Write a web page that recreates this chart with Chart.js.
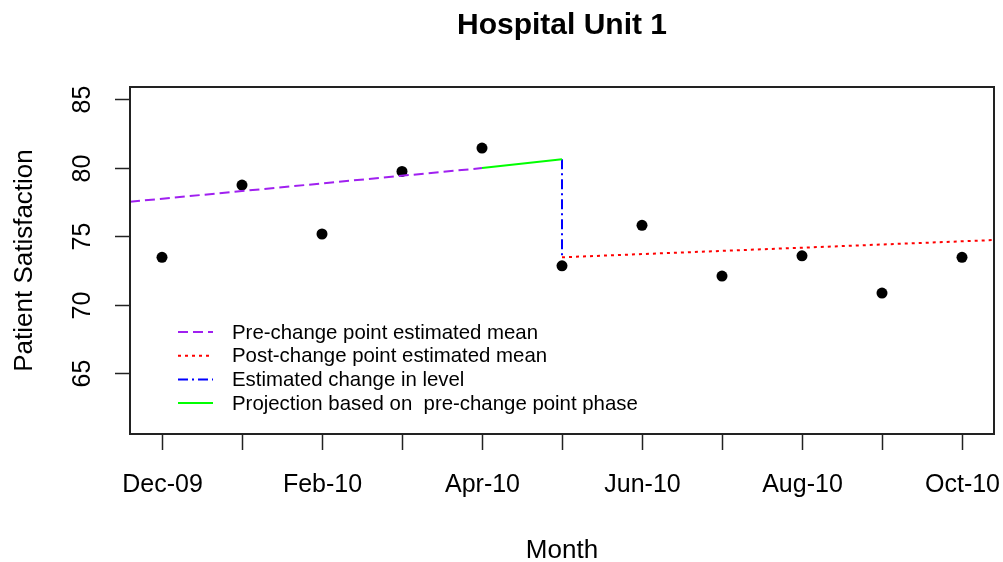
<!DOCTYPE html>
<html>
<head>
<meta charset="utf-8">
<script src="https://cdn.jsdelivr.net/npm/chart.js@4.4.1/dist/chart.umd.min.js"></script>
<style>
  html, body { margin: 0; padding: 0; background: #ffffff; }
  #wrap { width: 1003px; height: 562px; }
</style>
</head>
<body>
<div id="wrap"><canvas id="c" width="1003" height="562"></canvas></div>
<script>
// ---- Data ----
const months = ['Dec-09','Jan-10','Feb-10','Mar-10','Apr-10','May-10','Jun-10','Jul-10','Aug-10','Sep-10','Oct-10'];
const satisfaction = [73.45, 78.72, 75.15, 79.72, 81.42, 72.83, 75.78, 72.08, 73.56, 70.84, 73.45];
const yTicks = [65, 70, 75, 80, 85];

// fitted segments (month index, value)
const preMeanX = [-0.4, 4];
const preMeanY = [77.50, 79.96];
const projX = [4, 5];
const projY = [79.96, 80.60];
const changeX = [5, 5];
const changeY = [80.60, 73.45];
const postMeanX = [5, 10.4];
const postMeanY = [73.45, 74.71];

const legendLabels = [
  'Pre-change point estimated mean',
  'Post-change point estimated mean',
  'Estimated change in level',
  'Projection based on  pre-change point phase'
];

const toXY = (xs, ys) => xs.map((x, i) => ({ x: x, y: ys[i] }));

const FONT = '"Liberation Sans", Arial, sans-serif';

const styles = [
  { color: '#A020F0', dash: [10, 5] },
  { color: '#FF0000', dash: [3, 4] },
  { color: '#0000FF', dash: [10, 4, 2, 4] },
  { color: '#00FF00', dash: [] }
];

const rDecor = {
  id: 'rDecor',
  afterDraw(chart) {
    const ctx = chart.ctx;
    const a = chart.chartArea;
    const xs = chart.scales.x, ys = chart.scales.y;
    ctx.save();
    // box
    ctx.strokeStyle = '#222';
    ctx.lineWidth = 2;
    ctx.setLineDash([]);
    ctx.strokeRect(a.left, a.top, a.right - a.left, a.bottom - a.top);
    // x ticks
    ctx.lineWidth = 1.5;
    ctx.fillStyle = '#000';
    ctx.font = '25px ' + FONT;
    ctx.textAlign = 'center';
    ctx.textBaseline = 'alphabetic';
    months.forEach((m, i) => {
      const px = Math.round(xs.getPixelForValue(i)) + 0.5;
      ctx.beginPath();
      ctx.moveTo(px, a.bottom);
      ctx.lineTo(px, a.bottom + 16);
      ctx.stroke();
      if (i % 2 === 0) ctx.fillText(m, px, 492);
    });
    // y ticks
    yTicks.forEach(v => {
      const py = Math.round(ys.getPixelForValue(v)) + 0.5;
      ctx.beginPath();
      ctx.moveTo(a.left - 15, py);
      ctx.lineTo(a.left, py);
      ctx.stroke();
      ctx.save();
      ctx.translate(90, py);
      ctx.rotate(-Math.PI / 2);
      ctx.fillText(String(v), 0, 0);
      ctx.restore();
    });
    // axis titles
    ctx.font = '26px ' + FONT;
    ctx.fillText('Month', (a.left + a.right) / 2, 558);
    ctx.save();
    ctx.translate(32, (a.top + a.bottom) / 2);
    ctx.rotate(-Math.PI / 2);
    ctx.fillText('Patient Satisfaction', 0, 0);
    ctx.restore();
    // title
    ctx.font = 'bold 30px ' + FONT;
    ctx.fillText('Hospital Unit 1', (a.left + a.right) / 2, 34);
    // legend
    ctx.font = '20.4px ' + FONT;
    ctx.textAlign = 'left';
    ctx.textBaseline = 'middle';
    legendLabels.forEach((lab, i) => {
      const y = 332 + i * 23.7;
      ctx.strokeStyle = styles[i].color;
      ctx.lineWidth = 2;
      ctx.setLineDash(styles[i].dash);
      ctx.beginPath();
      ctx.moveTo(178, y);
      ctx.lineTo(213, y);
      ctx.stroke();
      ctx.fillStyle = '#000';
      ctx.fillText(lab, 232, y + 1);
    });
    ctx.restore();
  }
};

new Chart(document.getElementById('c'), {
  type: 'scatter',
  data: {
    datasets: [
      { label: 'pre', data: toXY(preMeanX, preMeanY), showLine: true, borderColor: styles[0].color, borderDash: styles[0].dash, borderWidth: 2, pointRadius: 0 },
      { label: 'proj', data: toXY(projX, projY), showLine: true, borderColor: styles[3].color, borderWidth: 2, pointRadius: 0 },
      { label: 'change', data: toXY(changeX, changeY), showLine: true, borderColor: styles[2].color, borderDash: styles[2].dash, borderWidth: 2, pointRadius: 0 },
      { label: 'post', data: toXY(postMeanX, postMeanY), showLine: true, borderColor: styles[1].color, borderDash: styles[1].dash, borderWidth: 2, pointRadius: 0 },
      { label: 'obs', data: satisfaction.map((v, i) => ({ x: i, y: v })), showLine: false, pointRadius: 5.5, pointBackgroundColor: '#000', pointBorderColor: '#000', pointBorderWidth: 0 }
    ]
  },
  options: {
    responsive: false,
    animation: false,
    devicePixelRatio: 1,
    layout: { padding: { left: 130, right: 9, top: 87, bottom: 128 } },
    scales: {
      x: { type: 'linear', min: -0.4, max: 10.4, display: false },
      y: { type: 'linear', min: 60.55, max: 85.88, display: false }
    },
    plugins: { legend: { display: false }, tooltip: { enabled: false }, title: { display: false } }
  },
  plugins: [rDecor]
});
</script>
</body>
</html>
